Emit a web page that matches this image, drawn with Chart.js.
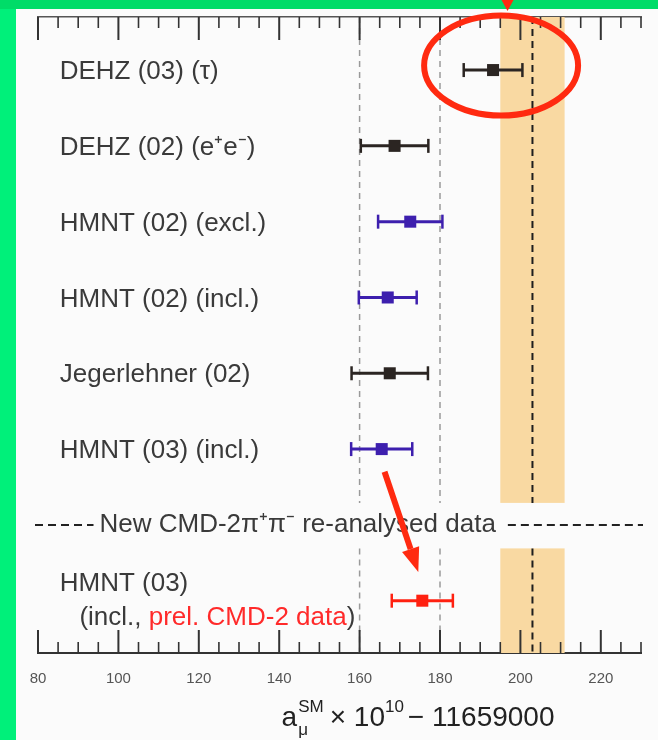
<!DOCTYPE html>
<html>
<head>
<meta charset="utf-8">
<title>a_mu SM predictions</title>
<script src="https://cdn.jsdelivr.net/npm/chart.js@4.4.1/dist/chart.umd.min.js"></script>
<style>
  html, body { margin: 0; padding: 0; background: #fbfbfb; }
  #wrap { width: 658px; height: 740px; position: relative; }
</style>
</head>
<body>
<div id="wrap"><canvas id="amuChart" width="658" height="740"></canvas></div>
<script>
// data
const rowLabels = ['DEHZ (03) (τ)', 'DEHZ (02) (e⁺e⁻)', 'HMNT (02) (excl.)', 'HMNT (02) (incl.)', 'Jegerlehner (02)', 'HMNT (03) (incl.)', 'HMNT (03)'];
const rowIndex = [0, 1, 2, 3, 4, 5, 7];
const central = [193.2, 168.7, 172.6, 167.0, 167.5, 165.5, 175.6];
const errors = [7.3, 8.4, 8.0, 7.2, 9.5, 7.6, 7.6];
const pointColors = ['#2b2522', '#2b2522', '#3d1fae', '#3d1fae', '#2b2522', '#3d1fae', '#ff2010'];
const lastLabelLine2 = [['(incl., ', '#3a3a3a'], ['prel. CMD-2 data', '#ff2a2a'], [')', '#3a3a3a']];
const separatorRow = 6;
const separatorText = 'New CMD-2π⁺π⁻ re-analysed data';
const expCentral = 203;
const expError = 8;
const refLines = [160, 180];
const xMin = 80, xMax = 230, xMajor = 20, xMinor = 5;

const FONT = "'Liberation Sans', Arial, sans-serif";
const LABEL_FONT = `26px ${FONT}`;
const TEXT = '#3a3a3a';

const frame = {
  id: 'frame',
  beforeDraw(chart) {
    const ctx = chart.ctx;
    ctx.save();
    ctx.fillStyle = '#00f07a';
    ctx.fillRect(0, 0, 16, chart.height);
    ctx.fillStyle = '#00dc68';
    ctx.fillRect(0, 0, chart.width, 9);
    ctx.fillStyle = '#fbfbfb';
    ctx.fillRect(16, 9, chart.width - 16, chart.height - 9);
    ctx.restore();
  }
};

function vline(ctx, px, y1, y2) {
  ctx.beginPath();
  ctx.moveTo(px, y1);
  ctx.lineTo(px, y2);
  ctx.stroke();
}

const background = {
  id: 'background',
  beforeDatasetsDraw(chart) {
    const { ctx, chartArea: area } = chart;
    const x = chart.scales.x, y = chart.scales.y;
    const gapTop = y.getPixelForValue(separatorRow - 0.29);
    const gapBot = y.getPixelForValue(separatorRow + 0.31);
    ctx.save();

    // experimental band
    const b1 = x.getPixelForValue(expCentral - expError);
    const b2 = x.getPixelForValue(expCentral + expError);
    ctx.fillStyle = '#f9d9a2';
    ctx.fillRect(b1, area.top, b2 - b1, gapTop - area.top);
    ctx.fillRect(b1, gapBot, b2 - b1, area.bottom - gapBot);

    // reference lines
    ctx.strokeStyle = '#9a9a9a';
    ctx.lineWidth = 1.5;
    ctx.setLineDash([6, 5]);
    refLines.forEach(v => {
      const px = x.getPixelForValue(v);
      vline(ctx, px, area.top, gapTop);
      vline(ctx, px, gapBot, area.bottom);
    });
    ctx.strokeStyle = '#1e1e1e';
    ctx.lineWidth = 2;
    ctx.setLineDash([7, 5]);
    const cpx = x.getPixelForValue(expCentral);
    vline(ctx, cpx, area.top, gapTop);
    vline(ctx, cpx, gapBot, area.bottom);

    // separator row
    const sy = y.getPixelForValue(separatorRow);
    ctx.font = LABEL_FONT;
    ctx.fillStyle = TEXT;
    ctx.textBaseline = 'middle';
    ctx.textAlign = 'left';
    const tx = x.getPixelForValue(95.3);
    ctx.fillText(separatorText, tx, sy);
    const tw = ctx.measureText(separatorText).width;
    ctx.setLineDash([8, 5]);
    ctx.strokeStyle = '#222';
    ctx.lineWidth = 2;
    ctx.beginPath();
    ctx.moveTo(area.left - 3, sy);
    ctx.lineTo(tx - 6, sy);
    ctx.moveTo(tx + tw + 12, sy);
    ctx.lineTo(area.right + 2, sy);
    ctx.stroke();
    ctx.setLineDash([]);

    // row labels
    const lx = x.getPixelForValue(85.4);
    ctx.fillStyle = TEXT;
    rowLabels.forEach((t, i) => {
      const py = y.getPixelForValue(rowIndex[i]);
      if (i === rowLabels.length - 1) {
        ctx.fillText(t, lx, py - 17);
        let px = x.getPixelForValue(90.3);
        lastLabelLine2.forEach(([s, c]) => {
          ctx.fillStyle = c;
          ctx.fillText(s, px, py + 17);
          px += ctx.measureText(s).width;
        });
        ctx.fillStyle = TEXT;
      } else {
        ctx.fillText(t, lx, py + 2);
      }
    });

    // error bars
    central.forEach((c, i) => {
      const py = y.getPixelForValue(rowIndex[i]);
      const p1 = x.getPixelForValue(c - errors[i]);
      const p2 = x.getPixelForValue(c + errors[i]);
      ctx.strokeStyle = pointColors[i];
      ctx.lineWidth = 3;
      ctx.beginPath();
      ctx.moveTo(p1, py);
      ctx.lineTo(p2, py);
      ctx.stroke();
      ctx.lineWidth = 2.5;
      vline(ctx, p1, py - 7, py + 7);
      vline(ctx, p2, py - 7, py + 7);
    });
    ctx.restore();
  }
};

const axisTicks = {
  id: 'axisTicks',
  afterDraw(chart) {
    const { ctx, chartArea: area } = chart;
    const x = chart.scales.x;
    ctx.save();
    ctx.strokeStyle = '#333';
    for (let v = xMin; v <= xMax; v += xMinor) {
      const px = x.getPixelForValue(v);
      const major = v % xMajor === 0;
      const len = major ? 23 : 11;
      ctx.lineWidth = major ? 2 : 1.6;
      vline(ctx, px, area.bottom, area.bottom - len);
      vline(ctx, px, area.top, area.top + len);
    }

    // axis title
    const base = area.bottom + 73;
    let tx = x.getPixelForValue(140.6);
    const big = `28px ${FONT}`, small = `17px ${FONT}`;
    ctx.fillStyle = '#222';
    ctx.textAlign = 'left';
    ctx.textBaseline = 'alphabetic';
    ctx.font = big;
    ctx.fillText('a', tx, base);
    tx += ctx.measureText('a').width + 1;
    ctx.font = small;
    ctx.fillText('μ', tx, base + 9);
    ctx.fillText('SM', tx, base - 14);
    tx += ctx.measureText('SM').width + 6;
    ctx.font = big;
    ctx.fillText('× 10', tx, base);
    tx += ctx.measureText('× 10').width;
    ctx.font = small;
    ctx.fillText('10', tx, base - 14);
    tx += ctx.measureText('10').width + 4;
    ctx.font = big;
    ctx.fillText('− 11659000', tx, base);
    ctx.restore();
  }
};

function arrow(ctx, x1, y1, x2, y2, head, half) {
  const ang = Math.atan2(y2 - y1, x2 - x1);
  const bx = x2 - head * Math.cos(ang), by = y2 - head * Math.sin(ang);
  ctx.beginPath();
  ctx.moveTo(x1, y1);
  ctx.lineTo(bx, by);
  ctx.stroke();
  ctx.beginPath();
  ctx.moveTo(x2, y2);
  ctx.lineTo(bx + half * Math.sin(ang), by - half * Math.cos(ang));
  ctx.lineTo(bx - half * Math.sin(ang), by + half * Math.cos(ang));
  ctx.closePath();
  ctx.fill();
}

const highlight = {
  id: 'highlight',
  afterDraw(chart) {
    const { ctx } = chart;
    const x = chart.scales.x, y = chart.scales.y;
    ctx.save();
    ctx.strokeStyle = '#ff2a10';
    ctx.fillStyle = '#ff2a10';
    ctx.lineWidth = 6;
    ctx.beginPath();
    ctx.ellipse(x.getPixelForValue(195.2), y.getPixelForValue(-0.06), 77, 50, 0, 0, Math.PI * 2);
    ctx.stroke();

    const ax = x.getPixelForValue(196.8);
    ctx.beginPath();
    ctx.moveTo(ax - 6, 0);
    ctx.lineTo(ax + 6, 0);
    ctx.lineTo(ax, 11);
    ctx.closePath();
    ctx.fill();

    arrow(ctx, x.getPixelForValue(166.2), y.getPixelForValue(5.3),
          x.getPixelForValue(174.6), y.getPixelForValue(6.62), 24, 9);
    ctx.restore();
  }
};

new Chart(document.getElementById('amuChart'), {
  type: 'scatter',
  data: {
    datasets: [{
      data: central.map((c, i) => ({ x: c, y: rowIndex[i] })),
      pointStyle: 'rect',
      pointRadius: 8.5,
      pointHoverRadius: 8.5,
      backgroundColor: pointColors,
      borderWidth: 0
    }]
  },
  options: {
    responsive: false,
    animation: false,
    devicePixelRatio: 1,
    layout: { padding: { left: 38, right: 10, top: 0, bottom: 0 } },
    plugins: { legend: { display: false }, tooltip: { enabled: false } },
    scales: {
      x: {
        type: 'linear',
        position: 'bottom',
        min: xMin,
        max: xMax,
        afterFit: s => { s.height = 87; },
        ticks: {
          stepSize: xMinor,
          autoSkip: false,
          maxRotation: 0,
          padding: 17,
          color: '#555',
          font: { family: FONT, size: 15 },
          callback: v => (v % xMajor === 0 ? v : '')
        },
        grid: { drawOnChartArea: false, drawTicks: false },
        border: { color: '#333', width: 2 }
      },
      x2: {
        type: 'linear',
        position: 'top',
        min: xMin,
        max: xMax,
        afterFit: s => { s.height = 17; },
        ticks: { display: false },
        grid: { drawOnChartArea: false, drawTicks: false },
        border: { color: '#555', width: 1.5 }
      },
      y: { type: 'linear', display: false, min: -0.7, max: 7.69, reverse: true }
    }
  },
  plugins: [frame, background, axisTicks, highlight]
});
</script>
</body>
</html>
